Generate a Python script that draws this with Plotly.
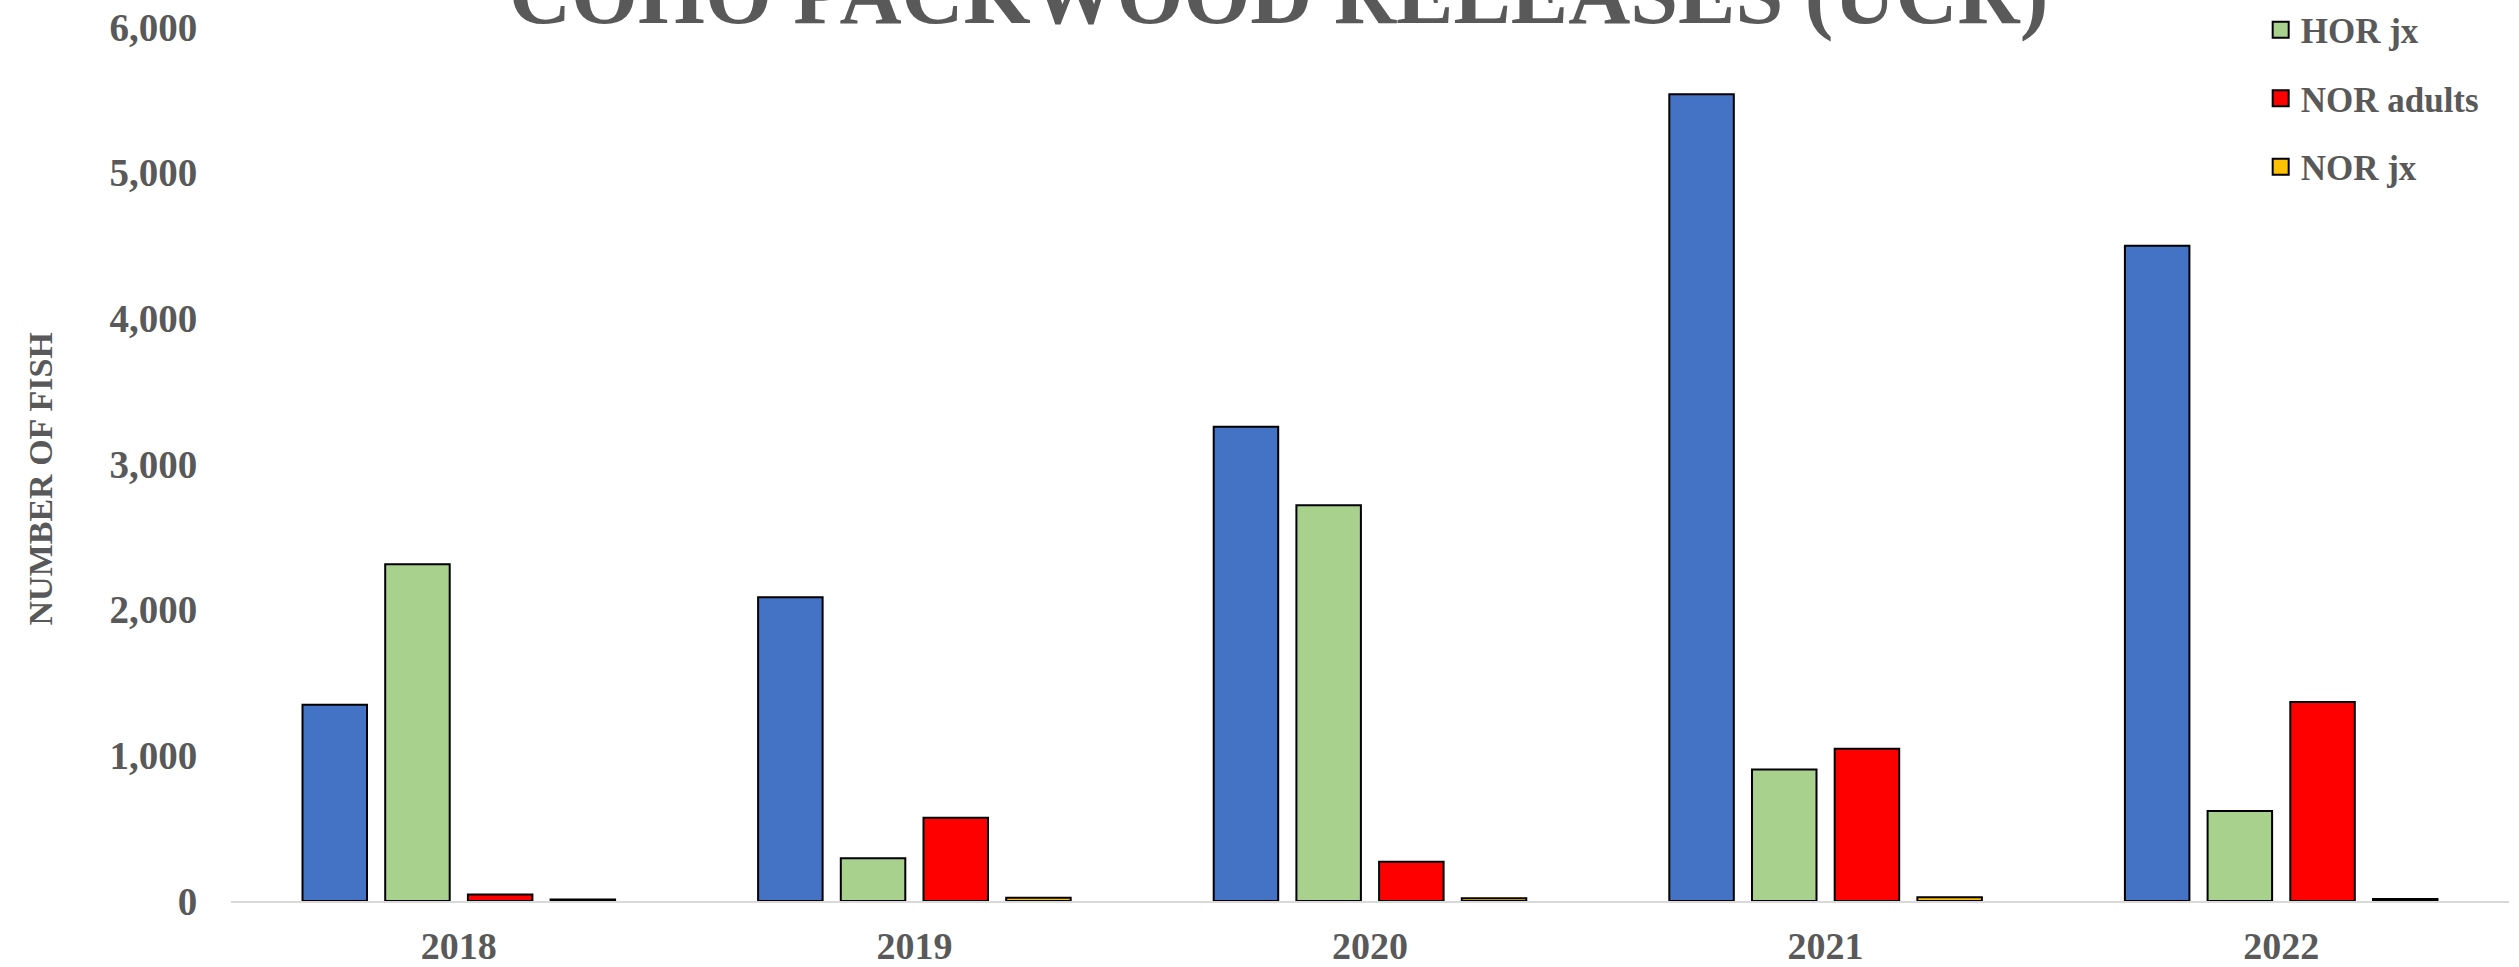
import plotly.graph_objects as go

years = ["2018", "2019", "2020", "2021", "2022"]
series_names = ["HOR adults", "HOR jx", "NOR adults", "NOR jx"]
hor_adults = [1348, 2085, 3256, 5538, 4499]
hor_jx = [2311, 293, 2716, 903, 618]
nor_adults = [45, 572, 270, 1046, 1366]
nor_jx = [10, 23, 19, 25, 14]
y_ticks = [0, 1000, 2000, 3000, 4000, 5000, 6000]
title_text = "COHO PACKWOOD RELEASES (UCR)"
y_title = "NUMBER OF FISH"

colors = ["#4472C4", "#A9D18E", "#FF0000", "#FFC000"]
values = [hor_adults, hor_jx, nor_adults, nor_jx]

FONT = "Liberation Serif"
GREY = "#595959"

W, H = 2519, 967
ML, MR, MT, MB = 230.6, 9.6, 27, 66
PW = W - ML - MR
PH = H - MT - MB

fig = go.Figure()
for name, vals, col in zip(series_names, values, colors):
    fig.add_trace(go.Bar(
        x=years, y=vals, name=name, showlegend=False,
        marker=dict(color=col, line=dict(color="black", width=2)),
    ))
# legend entries (square swatches)
for i, (name, col) in enumerate(zip(series_names, colors)):
    fig.add_trace(go.Scatter(
        x=[None], y=[None], mode="markers", name=name, legendgroup=f"g{i}",
        marker=dict(symbol="square", size=16, color=col, line=dict(color="black", width=2)),
    ))

def px_to_paper_x(px):
    return (px - ML) / PW

def px_to_paper_y(py):
    return (H - MB - py) / PH

fig.update_layout(
    width=W, height=H,
    margin=dict(l=ML, r=MR, t=MT, b=MB, autoexpand=False),
    paper_bgcolor="white", plot_bgcolor="white",
    barmode="group", bargap=0.274, bargroupgap=0.22,
    font=dict(family=FONT, color=GREY, weight="bold"),
    showlegend=True,
    legend=dict(
        x=px_to_paper_x(2261), xanchor="left",
        y=px_to_paper_y(-68), yanchor="top",
        font=dict(family=FONT, size=35, color=GREY, weight="bold"),
        tracegroupgap=20, bgcolor="rgba(0,0,0,0)", itemwidth=30,
    ),
    xaxis=dict(
        showline=True, linecolor="#D9D9D9", linewidth=2,
        showgrid=False, zeroline=False,
        ticks="outside", ticklen=10, tickcolor="rgba(0,0,0,0)",
        tickfont=dict(family=FONT, size=38, color=GREY, weight="bold"),
    ),
    yaxis=dict(
        range=[0, 6000], tickvals=y_ticks, tickformat=",d",
        showline=False, showgrid=False, zeroline=False,
        ticks="outside", ticklen=25, tickcolor="rgba(0,0,0,0)",
        tickfont=dict(family=FONT, size=39, color=GREY, weight="bold"),
    ),
    annotations=[
        dict(text=title_text, xref="paper", yref="paper",
             x=px_to_paper_x(1278.5), y=px_to_paper_y(44),
             xanchor="center", yanchor="bottom", showarrow=False,
             font=dict(family=FONT, size=86, color=GREY, weight="bold")),
        dict(text=y_title, xref="paper", yref="paper",
             x=px_to_paper_x(40), y=px_to_paper_y(479),
             xanchor="center", yanchor="middle", textangle=-90, showarrow=False,
             font=dict(family=FONT, size=34, color=GREY, weight="bold")),
    ],
)

fig.write_html("out.html", config={"displayModeBar": False},
               post_script="document.body.style.margin='0px';")
